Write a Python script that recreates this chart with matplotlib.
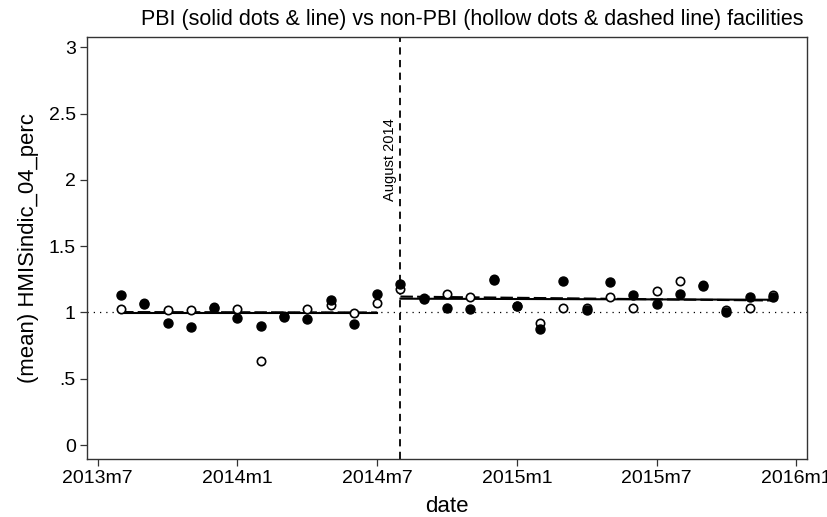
import matplotlib
matplotlib.use("Agg")
import matplotlib.pyplot as plt
import numpy as np

plt.rcParams['font.family'] = ['Liberation Sans', 'DejaVu Sans']

# months since 2013m7 (2013m8 .. 2015m12)
months = list(range(1, 30))
pbi = [1.134, 1.066, 0.919, 0.889, 1.033, 0.960, 0.900, 0.964, 0.947, 1.096, 0.914, 1.140,
       1.217, 1.104, 1.033, 1.025, 1.242, 1.045, 0.876, 1.235, 1.020, 1.230, 1.134, 1.063,
       1.140, 1.200, 1.000, 1.120, 1.120]
nonpbi = [1.025, 1.070, 1.020, 1.020, 1.040, 1.025, 0.636, 0.970, 1.025, 1.055, 0.998, 1.073,
          1.180, 1.110, 1.140, 1.116, 1.250, 1.050, 0.919, 1.035, 1.030, 1.114, 1.035, 1.160,
          1.240, 1.210, 1.020, 1.035, 1.130]

# fitted segment endpoints
pre_x = [1, 12]
post_x = [13, 29]
pbi_pre_fit = [0.997, 0.997]
pbi_post_fit = [1.104, 1.096]
non_pre_fit = [1.003, 1.000]
non_post_fit = [1.120, 1.090]

xtick_pos = [0, 6, 12, 18, 24, 30]
xtick_labels = ['2013m7', '2014m1', '2014m7', '2015m1', '2015m7', '2016m1']
ytick_pos = [0, 0.5, 1, 1.5, 2, 2.5, 3]
ytick_labels = ['0', '.5', '1', '1.5', '2', '2.5', '3']
event_month = 13
event_label = 'August 2014'

fig = plt.figure(figsize=(8.27, 5.17), dpi=100)
ax = fig.add_axes([0.105, 0.112, 0.871, 0.816])

ax.axhline(1, color='black', lw=0.9, ls=(0, (1, 4)), zorder=1)
ax.axvline(event_month, color='black', lw=1.3, ls=(0, (4, 3)), zorder=1)
ax.text(event_month - 0.15, 2.15, event_label, rotation=90, ha='right', va='center', fontsize=10.5)

ax.plot(pre_x, non_pre_fit, color='black', lw=1.5, ls=(0, (6, 2)), zorder=2)
ax.plot(post_x, non_post_fit, color='black', lw=1.5, ls=(0, (6, 2)), zorder=2)
ax.plot(pre_x, pbi_pre_fit, color='black', lw=1.5, zorder=2)
ax.plot(post_x, pbi_post_fit, color='black', lw=1.5, zorder=2)

ax.plot(months, nonpbi, 'o', ms=6, mfc='white', mec='black', mew=1.2, ls='none', zorder=3)
ax.plot(months, pbi, 'o', ms=6.5, mfc='black', mec='black', ls='none', zorder=4)

ax.set_xlim(-0.47, 30.47)
ax.set_ylim(-0.106, 3.076)
ax.set_xticks(xtick_pos)
ax.set_xticklabels(xtick_labels, fontsize=14)
ax.set_yticks(ytick_pos)
ax.set_yticklabels(ytick_labels, fontsize=14)
ax.tick_params(direction='out', length=5, width=0.9, color='#333333', pad=3)
for s in ax.spines.values():
    s.set_color('#333333')
    s.set_linewidth(1.0)

ax.set_xlabel('date', fontsize=16, labelpad=6)
ax.set_ylabel('(mean) HMISindic_04_perc', fontsize=15.9, labelpad=7)
fig.text(0.571, 0.9615, 'PBI (solid dots & line) vs non-PBI (hollow dots & dashed line) facilities',
         fontsize=15.5, ha='center', va='center')

fig.savefig('out.png', dpi=100)
